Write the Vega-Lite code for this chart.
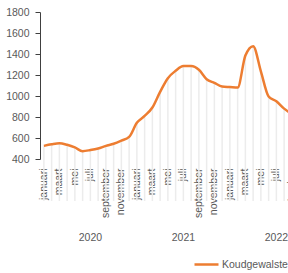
{
  "$schema": "https://vega.github.io/schema/vega-lite/v6.json",
  "autosize": {"type": "none"},
  "width": 279,
  "height": 147,
  "padding": {"left": 40, "top": 12, "right": -31, "bottom": 114},
  "background": "white",
  "config": {
    "view": {"stroke": null},
    "font": "Liberation Sans",
    "axis": {"labelFont": "Liberation Sans", "labelFontSize": 10.5, "labelColor": "#595959", "grid": false}
  },
  "data": {
    "values": [
      {"maand": "2020-01", "waarde": 525},
      {"maand": "2020-02", "waarde": 540},
      {"maand": "2020-03", "waarde": 550},
      {"maand": "2020-04", "waarde": 535},
      {"maand": "2020-05", "waarde": 510},
      {"maand": "2020-06", "waarde": 475},
      {"maand": "2020-07", "waarde": 485},
      {"maand": "2020-08", "waarde": 500},
      {"maand": "2020-09", "waarde": 525},
      {"maand": "2020-10", "waarde": 545},
      {"maand": "2020-11", "waarde": 575},
      {"maand": "2020-12", "waarde": 610},
      {"maand": "2021-01", "waarde": 745},
      {"maand": "2021-02", "waarde": 810},
      {"maand": "2021-03", "waarde": 890},
      {"maand": "2021-04", "waarde": 1040},
      {"maand": "2021-05", "waarde": 1170},
      {"maand": "2021-06", "waarde": 1240},
      {"maand": "2021-07", "waarde": 1285},
      {"maand": "2021-08", "waarde": 1285},
      {"maand": "2021-09", "waarde": 1250},
      {"maand": "2021-10", "waarde": 1160},
      {"maand": "2021-11", "waarde": 1125},
      {"maand": "2021-12", "waarde": 1090},
      {"maand": "2022-01", "waarde": 1085},
      {"maand": "2022-02", "waarde": 1080},
      {"maand": "2022-03", "waarde": 1385},
      {"maand": "2022-04", "waarde": 1475},
      {"maand": "2022-05", "waarde": 1235},
      {"maand": "2022-06", "waarde": 995},
      {"maand": "2022-07", "waarde": 950},
      {"maand": "2022-08", "waarde": 880},
      {"maand": "2022-09", "waarde": 830}
    ]
  },
  "encoding": {
    "x": {
      "field": "maand",
      "type": "ordinal",
      "sort": null,
      "scale": {
        "type": "band",
        "paddingInner": 0,
        "paddingOuter": 0,
        "domain": ["2020-01","2020-02","2020-03","2020-04","2020-05","2020-06","2020-07","2020-08","2020-09","2020-10","2020-11","2020-12",
                   "2021-01","2021-02","2021-03","2021-04","2021-05","2021-06","2021-07","2021-08","2021-09","2021-10","2021-11","2021-12",
                   "2022-01","2022-02","2022-03","2022-04","2022-05","2022-06","2022-07","2022-08","2022-09","2022-10","2022-11","2022-12"]
      }
    },
    "y": {
      "field": "waarde",
      "type": "quantitative",
      "scale": {"domain": [400, 1800], "zero": false, "nice": false},
      "axis": {
        "title": null,
        "format": "d",
        "values": [400, 600, 800, 1000, 1200, 1400, 1600, 1800],
        "domainColor": "#404040",
        "tickColor": "#404040",
        "tickSize": 5,
        "labelPadding": 6
      }
    }
  },
  "layer": [
    {
      "mark": {"type": "bar", "color": "#ececec", "size": 1.5},
      "encoding": {
        "x": {
          "field": "maand",
          "type": "ordinal",
          "sort": null,
          "axis": {
            "title": null,
            "orient": "bottom",
            "values": ["2020-01","2020-03","2020-05","2020-07","2020-09","2020-11","2021-01","2021-03","2021-05","2021-07","2021-09","2021-11","2022-01","2022-03","2022-05","2022-07","2022-09","2022-11"],
            "labelExpr": "['januari','februari','maart','april','mei','juni','juli','augustus','september','oktober','november','december'][toNumber(substring(datum.value,5,7))-1]",
            "labelAngle": 270,
            "labelAlign": "right",
            "labelBaseline": "middle",
            "labelPadding": 9,
            "labelOverlap": false,
            "ticks": false,
            "domain": false
          }
        }
      }
    },
    {
      "mark": {"type": "line", "interpolate": "monotone", "strokeWidth": 2.5},
      "encoding": {
        "x": {
          "field": "maand",
          "type": "ordinal",
          "sort": null,
          "axis": {
            "title": null,
            "orient": "bottom",
            "values": ["2020-07","2021-07","2022-07"],
            "labelExpr": "substring(datum.value,0,4)",
            "bandPosition": 0,
            "labelAngle": 0,
            "labelAlign": "center",
            "labelBaseline": "top",
            "labelPadding": 73,
            "labelOverlap": false,
            "ticks": false,
            "domain": false
          }
        },
        "color": {
          "datum": "Koudgewalste staalplaat",
          "scale": {"range": ["#ED7D31"]},
          "legend": {
            "title": null,
            "orient": "none",
            "legendX": 153,
            "legendY": 239,
            "padding": 0,
            "symbolType": "stroke",
            "symbolSize": 576,
            "symbolStrokeWidth": 2.5,
            "labelOffset": 2,
            "labelFontSize": 10.5,
            "labelFont": "Liberation Sans",
            "labelColor": "#595959"
          }
        }
      }
    }
  ],
  "resolve": {"axis": {"x": "independent"}}
}
